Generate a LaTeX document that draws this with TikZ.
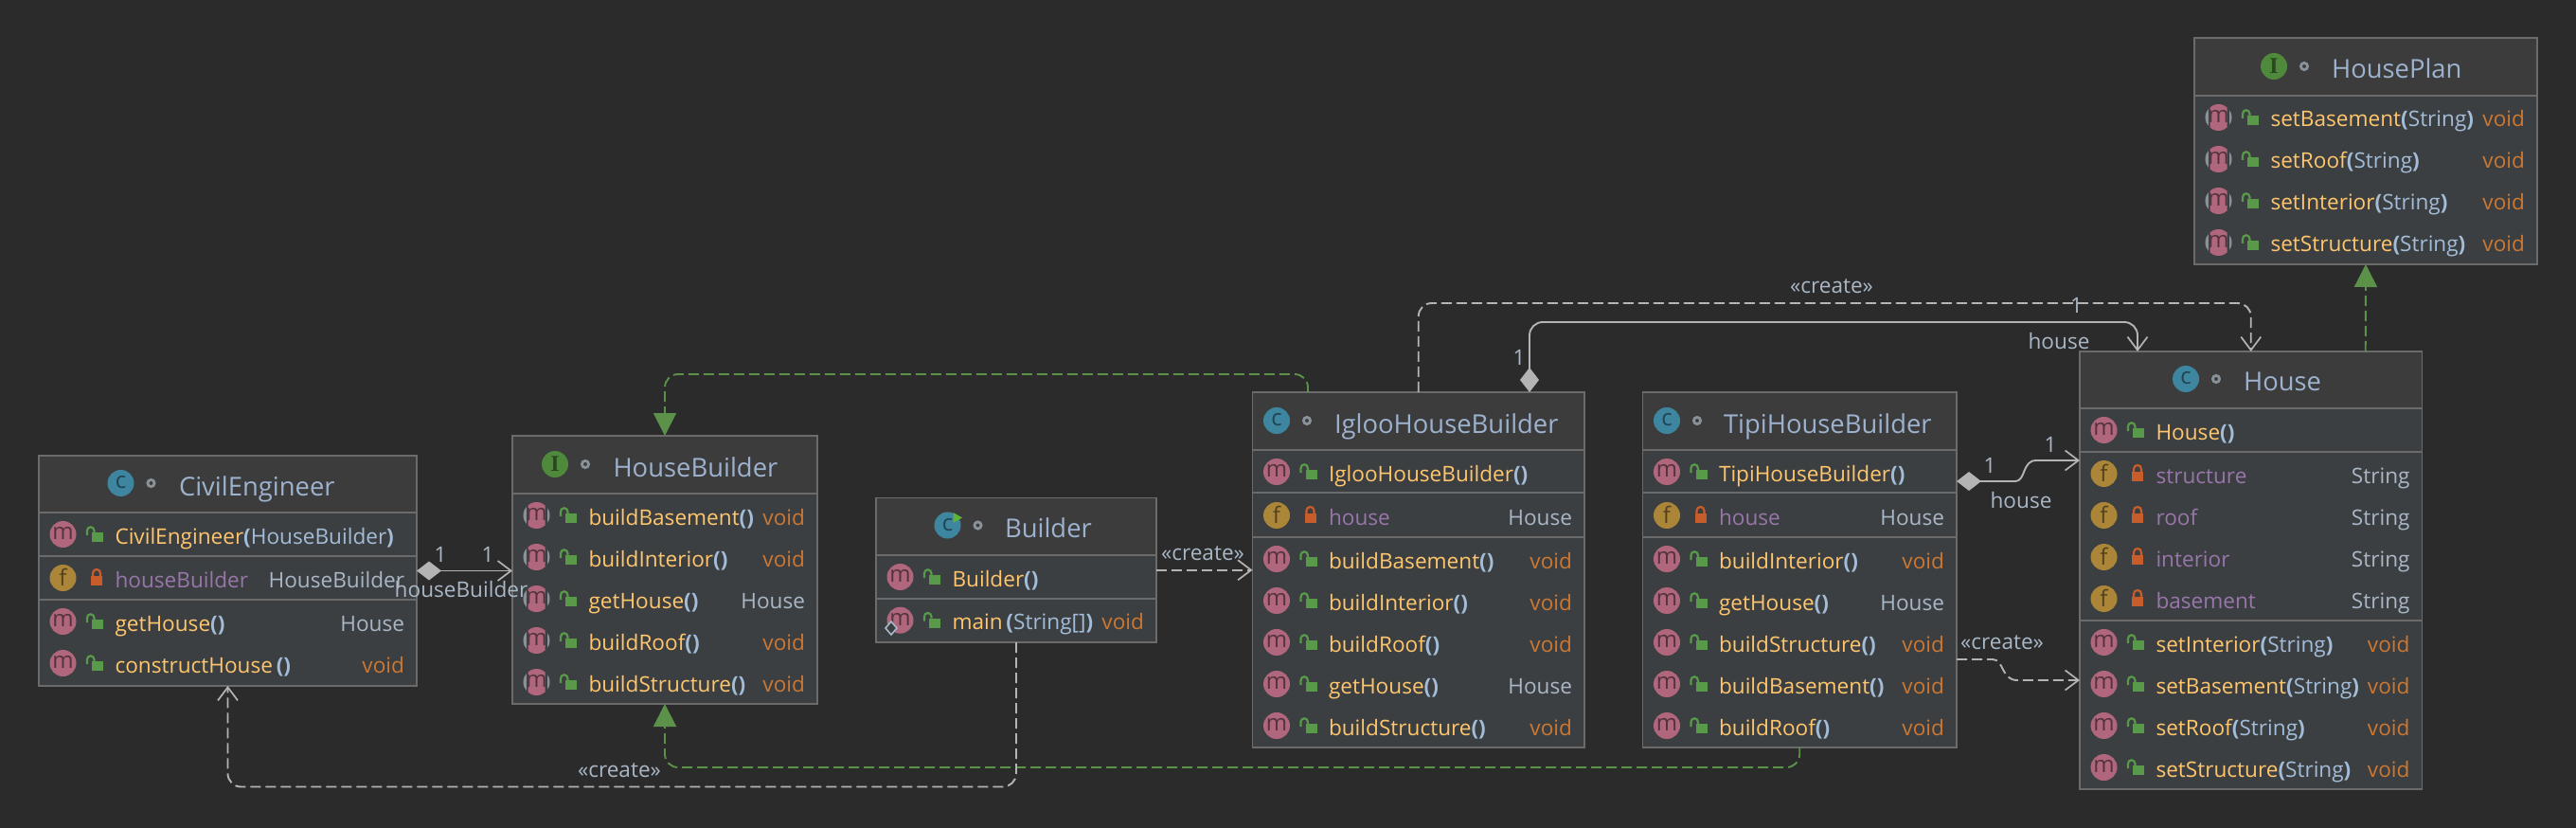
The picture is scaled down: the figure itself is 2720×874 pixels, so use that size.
\documentclass[tikz,border=0pt]{standalone}
\usepackage{fontspec}
\setmainfont{Open Sans}
\newfontfamily\iconserif{Liberation Serif}
\usetikzlibrary{arrows.meta,calc}
\definecolor{bgc}{HTML}{2B2B2B}
\definecolor{headc}{HTML}{3C3C3C}
\definecolor{bodyc}{HTML}{3C3F41}
\definecolor{linec}{HTML}{6B6B6B}
\definecolor{titlec}{HTML}{9DB2CE}
\definecolor{namec}{HTML}{FFC66D}
\definecolor{voidc}{HTML}{CC7832}
\definecolor{fieldc}{HTML}{9876AA}
\definecolor{typec}{HTML}{A9B7C6}
\definecolor{parenc}{HTML}{A3BDD9}
\definecolor{mc}{HTML}{B0677D}
\definecolor{mdark}{HTML}{54333D}
\definecolor{fc}{HTML}{AB8639}
\definecolor{fdark}{HTML}{54421F}
\definecolor{cc}{HTML}{3E86A0}
\definecolor{cdark}{HTML}{1F4553}
\definecolor{ic}{HTML}{4F8A3C}
\definecolor{idark}{HTML}{2A4720}
\definecolor{lockg}{HTML}{59994A}
\definecolor{lockr}{HTML}{C75D2B}
\definecolor{dotc}{HTML}{8A9299}
\definecolor{conn}{HTML}{B4B4B4}
\definecolor{greenc}{HTML}{5C9149}
\definecolor{runc}{HTML}{5FB336}
\newcounter{nid}
\tikzset{
  umlbox/.style={draw=linec,line width=1.6pt,fill=bodyc,inner sep=0pt,outer sep=0pt},
  sepl/.style={draw=linec,line width=2pt},
  txt/.style={inner sep=0pt,outer sep=0pt,anchor=base west,font=\fontsize{22.6}{26}\selectfont},
  txtr/.style={inner sep=0pt,outer sep=0pt,anchor=base east,font=\fontsize{22.6}{26}\selectfont},
  ttl/.style={inner sep=0pt,outer sep=0pt,anchor=base west,text=titlec,font=\fontsize{27.4}{30}\selectfont},
  iconl/.style={inner sep=0pt,outer sep=0pt,font=\fontsize{24}{24}\selectfont},
  lbl/.style={inner sep=0pt,outer sep=0pt,text=typec,font=\fontsize{22.6}{26}\selectfont},
  createline/.style={draw=conn,line width=1.9pt,dash pattern=on 11pt off 5pt,rounded corners=14pt,-{Straight Barb[length=14pt,width=21pt,line width=1.7pt]}},
  implline/.style={draw=greenc,line width=1.9pt,dash pattern=on 11pt off 5pt,rounded corners=14pt,-{Triangle[length=24pt,width=24pt,fill=greenc,color=greenc]}},
  compline/.style={draw=conn,line width=1.9pt,rounded corners=14pt,{Diamond[length=26pt,width=20pt,fill=conn,color=conn]}-{Straight Barb[length=14pt,width=21pt,line width=1.7pt]}},
}
\newcommand{\po}{{\bfseries(}}
\newcommand{\pc}{{\bfseries)}}
% box: name, x1, y1, x2, y2, header bottom
\newcommand{\umlb}[6]{%
  \node[umlbox,minimum width={(#4-#2)*1pt},minimum height={(#5-#3)*1pt}] (#1) at ({(#2+#4)/2},{(#3+#5)/2}) {};
  \fill[headc] ({#2+1},{#3+1}) rectangle ({#4-1},#6);
  \draw[sepl] (#2,#6) -- (#4,#6);
}
\newcommand{\sepr}[3]{\draw[sepl] (#1,#3) -- (#2,#3);}
% title: x of icon, y of icon, x of text, letter, colour, dark colour, text
\newcommand{\titl}[7]{%
  \fill[#5] (#1,#2) circle (14);
  \stepcounter{nid}\node[iconl,text=#6] (i\arabic{nid}) at (#1,{#2-0.5}) {#4};
  \draw[dotc,line width=2.8pt] ({#1+32},#2) circle (3.6);
  \stepcounter{nid}\node[ttl] (t\arabic{nid}) at (#3,{#2+13}) {#7};
}
\newcommand{\openlock}[2]{%
  \fill[lockg] ({#1-5},{#2-2}) rectangle ({#1+7},{#2+8});
  \draw[lockg,line width=2.2pt] ({#1-10},{#2+1}) -- ({#1-10},{#2-4}) arc[start angle=180,end angle=0,x radius=3.7,y radius=-3.7] -- ({#1-2.6},{#2-2});
}
\newcommand{\closedlock}[2]{%
  \fill[lockr] ({#1-6},{#2-2}) rectangle ({#1+6},{#2+8});
  \draw[lockr,line width=2.2pt] ({#1-4},{#2-1}) -- ({#1-4},{#2-5}) arc[start angle=180,end angle=0,x radius=4,y radius=-4] -- ({#1+4},{#2-1});
}
\newcommand{\rowtext}[6]{% x1,x2,cy,name,colored rest,type
  \stepcounter{nid}\node[txt] (n\arabic{nid}) at ({#1+80.5},{#3+10}) {#4#5};
  \stepcounter{nid}\node[txtr] (r\arabic{nid}) at ({#2-13},{#3+10}) {#6};
}
\newcommand{\Vd}{\textcolor{voidc}{void}}
\newcommand{\Ty}[1]{\textcolor{typec}{#1}}
% method: x1,x2,cy,name,args,type
\newcommand{\meth}[6]{%
  \fill[mc] ({#1+25.5},#3) circle (14);
  \stepcounter{nid}\node[iconl,text=mdark] (m\arabic{nid}) at ({#1+25.5},{#3-1}) {m};
  \openlock{#1+61}{#3}
  \rowtext{#1}{#2}{#3}{\textcolor{namec}{#4}}{\textcolor{parenc}{#5}}{#6}
}
\newcommand{\ameth}[6]{%
  \fill[dotc] ({#1+25.5},#3) circle (14);
  \fill[bodyc] ({#1+14.5},{#3-14}) rectangle ({#1+36.5},{#3+14});
  \begin{scope}
    \clip ({#1+16.5},{#3-14}) rectangle ({#1+34.5},{#3+14});
    \fill[mc] ({#1+25.5},#3) circle (14);
  \end{scope}
  \stepcounter{nid}\node[iconl,text=mdark] (m\arabic{nid}) at ({#1+25.5},{#3-1}) {m};
  \openlock{#1+61}{#3}
  \rowtext{#1}{#2}{#3}{\textcolor{namec}{#4}}{\textcolor{parenc}{#5}}{#6}
}
\newcommand{\fld}[5]{%
  \fill[fc] ({#1+25.5},#3) circle (14);
  \stepcounter{nid}\node[iconl,text=fdark] (f\arabic{nid}) at ({#1+25.5},{#3-1}) {f};
  \closedlock{#1+61}{#3}
  \rowtext{#1}{#2}{#3}{\textcolor{fieldc}{#4}}{}{\Ty{#5}}
}
\begin{document}
\begin{tikzpicture}[x=1pt,y=-1pt]
\useasboundingbox (0,0) rectangle (2720,874);
\fill[bgc] (0,0) rectangle (2720,874);
% ---- CivilEngineer
\umlb{civil}{41}{481}{440}{724}{541}
\sepr{41}{440}{587}\sepr{41}{440}{633}
\titl{127.5}{510}{189}{c}{cc}{cdark}{CivilEngineer}
\meth{41}{440}{564}{CivilEngineer}{\po HouseBuilder\pc}{}
\fld{41}{440}{610}{houseBuilder}{HouseBuilder}
\meth{41}{440}{656}{getHouse}{\po\pc}{\Ty{House}}
\meth{41}{440}{700}{constructHouse}{\,\po\pc}{\Vd}
% ---- HouseBuilder
\umlb{hb}{541}{460}{863}{743}{521}
\titl{586}{490}{647.5}{\iconserif\bfseries I}{ic}{idark}{HouseBuilder}
\ameth{541}{863}{544}{buildBasement}{\po\pc}{\Vd}
\ameth{541}{863}{588}{buildInterior}{\po\pc}{\Vd}
\ameth{541}{863}{632}{getHouse}{\po\pc}{\Ty{House}}
\ameth{541}{863}{676}{buildRoof}{\po\pc}{\Vd}
\ameth{541}{863}{720}{buildStructure}{\po\pc}{\Vd}
% ---- Builder
\umlb{builder}{925}{525.5}{1221}{678}{586}
\sepr{925}{1221}{632}
\titl{1000.5}{554.5}{1061}{c}{cc}{cdark}{Builder}
\fill[runc] (1006.5,541) -- (1016,546.5) -- (1006.5,552) -- cycle;
\meth{925}{1221}{609}{Builder}{\po\pc}{}
\meth{925}{1221}{654.7}{main}{\,\po String[]\pc}{\Vd}
\draw[typec,line width=1.6pt,fill=bodyc] (941,656) -- (947,663) -- (941,670) -- (935,663) -- cycle;
% ---- IglooHouseBuilder
\umlb{igloo}{1322.5}{414}{1673}{789}{475}
\sepr{1322.5}{1673}{520}\sepr{1322.5}{1673}{567}
\titl{1348}{444}{1409}{c}{cc}{cdark}{IglooHouseBuilder}
\meth{1322.5}{1673}{498}{IglooHouseBuilder}{\po\pc}{}
\fld{1322.5}{1673}{544}{house}{House}
\meth{1322.5}{1673}{590}{buildBasement}{\po\pc}{\Vd}
\meth{1322.5}{1673}{634}{buildInterior}{\po\pc}{\Vd}
\meth{1322.5}{1673}{678}{buildRoof}{\po\pc}{\Vd}
\meth{1322.5}{1673}{722}{getHouse}{\po\pc}{\Ty{House}}
\meth{1322.5}{1673}{766}{buildStructure}{\po\pc}{\Vd}
% ---- TipiHouseBuilder
\umlb{tipi}{1734.5}{414}{2066}{789}{475}
\sepr{1734.5}{2066}{520}\sepr{1734.5}{2066}{567}
\titl{1760}{444}{1820}{c}{cc}{cdark}{TipiHouseBuilder}
\meth{1734.5}{2066}{498}{TipiHouseBuilder}{\po\pc}{}
\fld{1734.5}{2066}{544}{house}{House}
\meth{1734.5}{2066}{590}{buildInterior}{\po\pc}{\Vd}
\meth{1734.5}{2066}{634}{getHouse}{\po\pc}{\Ty{House}}
\meth{1734.5}{2066}{678}{buildStructure}{\po\pc}{\Vd}
\meth{1734.5}{2066}{722}{buildBasement}{\po\pc}{\Vd}
\meth{1734.5}{2066}{766}{buildRoof}{\po\pc}{\Vd}
% ---- House
\umlb{house}{2196}{371}{2557.5}{833}{431}
\sepr{2196}{2557.5}{476.5}\sepr{2196}{2557.5}{655}
\titl{2308}{400}{2369}{c}{cc}{cdark}{House}
\meth{2196}{2557.5}{454}{House}{\po\pc}{}
\fld{2196}{2557.5}{500}{structure}{String}
\fld{2196}{2557.5}{544}{roof}{String}
\fld{2196}{2557.5}{588}{interior}{String}
\fld{2196}{2557.5}{632}{basement}{String}
\meth{2196}{2557.5}{678}{setInterior}{\po String\pc}{\Vd}
\meth{2196}{2557.5}{722}{setBasement}{\po String\pc}{\Vd}
\meth{2196}{2557.5}{766}{setRoof}{\po String\pc}{\Vd}
\meth{2196}{2557.5}{810}{setStructure}{\po String\pc}{\Vd}
% ---- HousePlan
\umlb{plan}{2317}{40}{2679}{279}{101}
\titl{2401}{70}{2462}{\iconserif\bfseries I}{ic}{idark}{HousePlan}
\ameth{2317}{2679}{124}{setBasement}{\po String\pc}{\Vd}
\ameth{2317}{2679}{168}{setRoof}{\po String\pc}{\Vd}
\ameth{2317}{2679}{212}{setInterior}{\po String\pc}{\Vd}
\ameth{2317}{2679}{256}{setStructure}{\po String\pc}{\Vd}
% ---- connectors
\draw[implline] ([xshift=58.5pt]igloo.north west) -- ++(0,-19) -| (hb.north);
\draw[implline] (tipi.south) -- ++(0,21) -| (hb.south);
\draw[createline] (builder.south) -- ++(0,152.5) -| (civil.south);
\draw[createline] (builder.east) -- (igloo.west |- builder.east);
\draw[createline] (igloo.north) -- ++(0,-94) -| (house.north);
\draw[compline] (civil.east) -- (hb.west |- civil.east);
\draw[compline] ([xshift=117.25pt]igloo.north) -- ++(0,-74) -| ([xshift=-119.75pt]house.north);
\draw[compline,rounded corners=0pt] ([yshift=93.5pt]tipi.east) -- (2128,508) .. controls (2139,508) and (2135,486) .. (2150,486) -- ([yshift=116pt]house.west);
\draw[createline,rounded corners=0pt] ([yshift=-94.5pt]tipi.east) -- (2104,696) .. controls (2116,696) and (2113,718) .. (2130,718) -- ([yshift=-116pt]house.west);
\draw[implline,rounded corners=0pt] ([xshift=121pt]house.north) -- (plan.south);
% ---- connector labels
\node[lbl] (l1) at (465,585) {1};
\node[lbl] (l2) at (515,585) {1};
\node[lbl] (l3) at (487,622) {houseBuilder};
\node[lbl] (l4) at (654,813) {«create»};
\node[lbl] (l5) at (1270,584) {«create»};
\node[lbl] (l6) at (1934,302) {«create»};
\node[lbl] (l7) at (1604,377.5) {1};
\node[lbl] (l8) at (2192.5,322.6) {1};
\node[lbl] (l9) at (2174,360) {house};
\node[lbl] (l10) at (2101,491) {1};
\node[lbl] (l11) at (2165,469) {1};
\node[lbl] (l12) at (2134,528) {house};
\node[lbl] (l13) at (2114,678) {«create»};
\end{tikzpicture}
\end{document}
